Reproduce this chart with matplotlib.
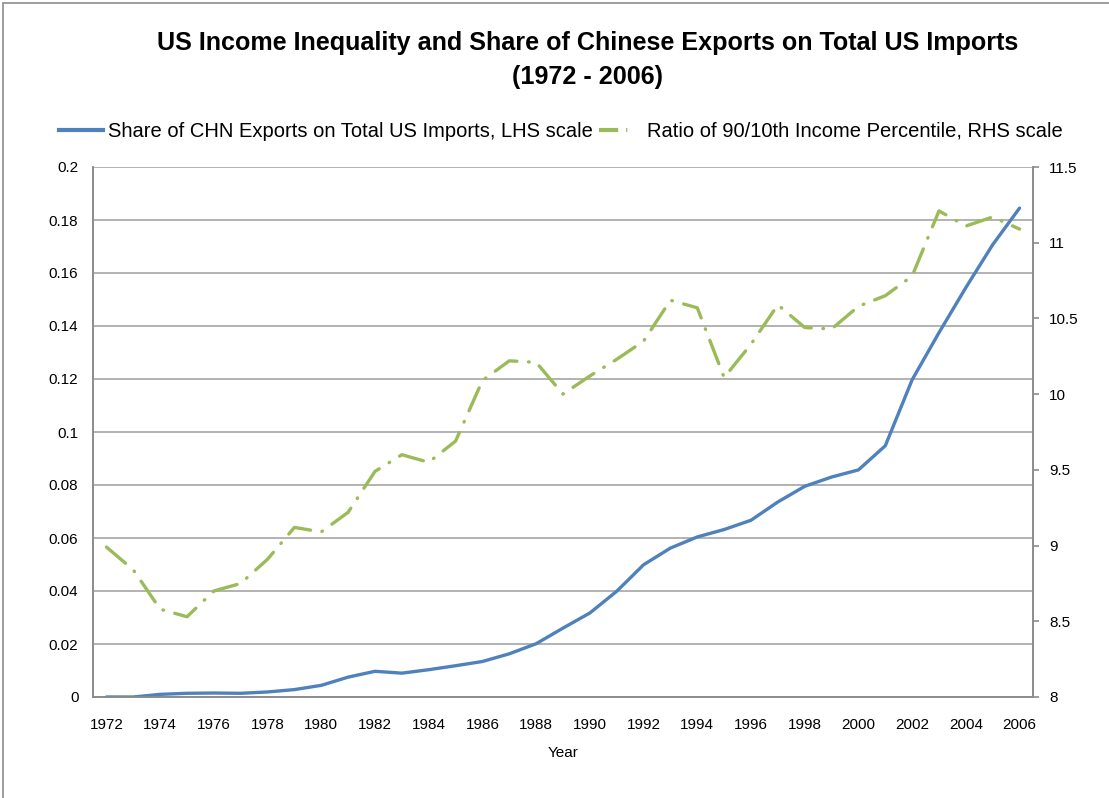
import matplotlib.pyplot as plt
from matplotlib.patches import Rectangle

plt.rcParams['font.family'] = ['Liberation Sans', 'DejaVu Sans']

years = list(range(1972, 2007))
chn_share = [0.0, 0.0, 0.001, 0.0014, 0.0015, 0.0014, 0.0019, 0.0028, 0.0044, 0.0075,
             0.0097, 0.009, 0.0103, 0.0118, 0.0134, 0.0163, 0.0201, 0.026, 0.0317, 0.0399,
             0.0499, 0.0562, 0.0604, 0.0632, 0.0667, 0.0736, 0.0795, 0.083, 0.0857, 0.0948,
             0.1197, 0.1375, 0.1545, 0.1707, 0.1845]
ratio_90_10 = [8.99, 8.84, 8.58, 8.53, 8.70, 8.75, 8.91, 9.12, 9.09, 9.22,
               9.49, 9.60, 9.55, 9.69, 10.09, 10.22, 10.21, 10.0, 10.12, 10.23,
               10.35, 10.62, 10.57, 10.11, 10.33, 10.59, 10.44, 10.43, 10.58, 10.65,
               10.78, 11.21, 11.11, 11.17, 11.09]

left_ticks = [0, 0.02, 0.04, 0.06, 0.08, 0.1, 0.12, 0.14, 0.16, 0.18, 0.2]
left_labels = ['0', '0.02', '0.04', '0.06', '0.08', '0.1', '0.12', '0.14', '0.16', '0.18', '0.2']
right_ticks = [8, 8.5, 9, 9.5, 10, 10.5, 11, 11.5]
right_labels = ['8', '8.5', '9', '9.5', '10', '10.5', '11', '11.5']

blue = '#4F81BD'
green = '#9BBB59'
grid_grey = '#A6A6A6'

fig = plt.figure(figsize=(11.09, 7.98), dpi=100)
# chart frame (only top/left edge visible in the crop)
fig.patches.append(Rectangle((3 / 1109, -0.1), 1.2, 1.1 - 3 / 798,
                             transform=fig.transFigure, fill=False,
                             edgecolor='#8C8C8C', linewidth=1.2))

ax = fig.add_axes([93 / 1109, 101 / 798, 940 / 1109, 530 / 798])
ax2 = ax.twinx()

pos = list(range(len(years)))
ax.plot(pos, chn_share, color=blue, linewidth=2.4, solid_capstyle='round', zorder=3)
ax2.plot(pos, ratio_90_10, color=green, linewidth=2.4,
         linestyle=(0, (7.5, 3.5, 0.2, 3.5)), dash_capstyle='round', zorder=3)

ax.set_xlim(-0.5, len(years) - 0.5)
ax.set_ylim(0, 0.2)
ax2.set_ylim(8, 11.5)

ax.set_yticks(left_ticks)
ax.set_yticklabels(left_labels)
ax2.set_yticks(right_ticks)
ax2.set_yticklabels(right_labels)
ax.set_xticks(pos[::2])
ax.set_xticklabels([str(y) for y in years[::2]])

ax.grid(axis='y', color=grid_grey, linewidth=1.2)
ax.set_axisbelow(True)

for a in (ax, ax2):
    for s in a.spines.values():
        s.set_color('#8C8C8C')
        s.set_linewidth(1.2)
    a.spines['top'].set_visible(False)

ax.tick_params(axis='y', length=0, labelsize=11, pad=10.5)
ax.tick_params(axis='x', length=0, labelsize=11, pad=15)
ax2.tick_params(axis='y', length=4.5, width=1.2, color='#8C8C8C', labelsize=11, pad=7)

ax.set_xlabel('Year', fontsize=11, labelpad=10)

fig.text(0.53, 0.946, 'US Income Inequality and Share of Chinese Exports on Total US Imports',
         ha='center', va='center', fontsize=18.1, fontweight='bold')
fig.text(0.53, 0.904, '(1972 - 2006)', ha='center', va='center', fontsize=18.1, fontweight='bold')

h1, = ax.plot([], [], color=blue, linewidth=3)
h2, = ax.plot([], [], color=green, linewidth=3, linestyle=(0, (4.6, 1.9, 0.3, 12)))
fig.legend([h1, h2], ['Share of CHN Exports on Total US Imports, LHS scale',
                      'Ratio of 90/10th Income Percentile, RHS scale'],
           loc='center', bbox_to_anchor=(0.506, 0.8355), ncol=2, frameon=False,
           fontsize=14.5, handlelength=2.15, handletextpad=0.25, columnspacing=0.3)

fig.savefig('out.png', dpi=100)
